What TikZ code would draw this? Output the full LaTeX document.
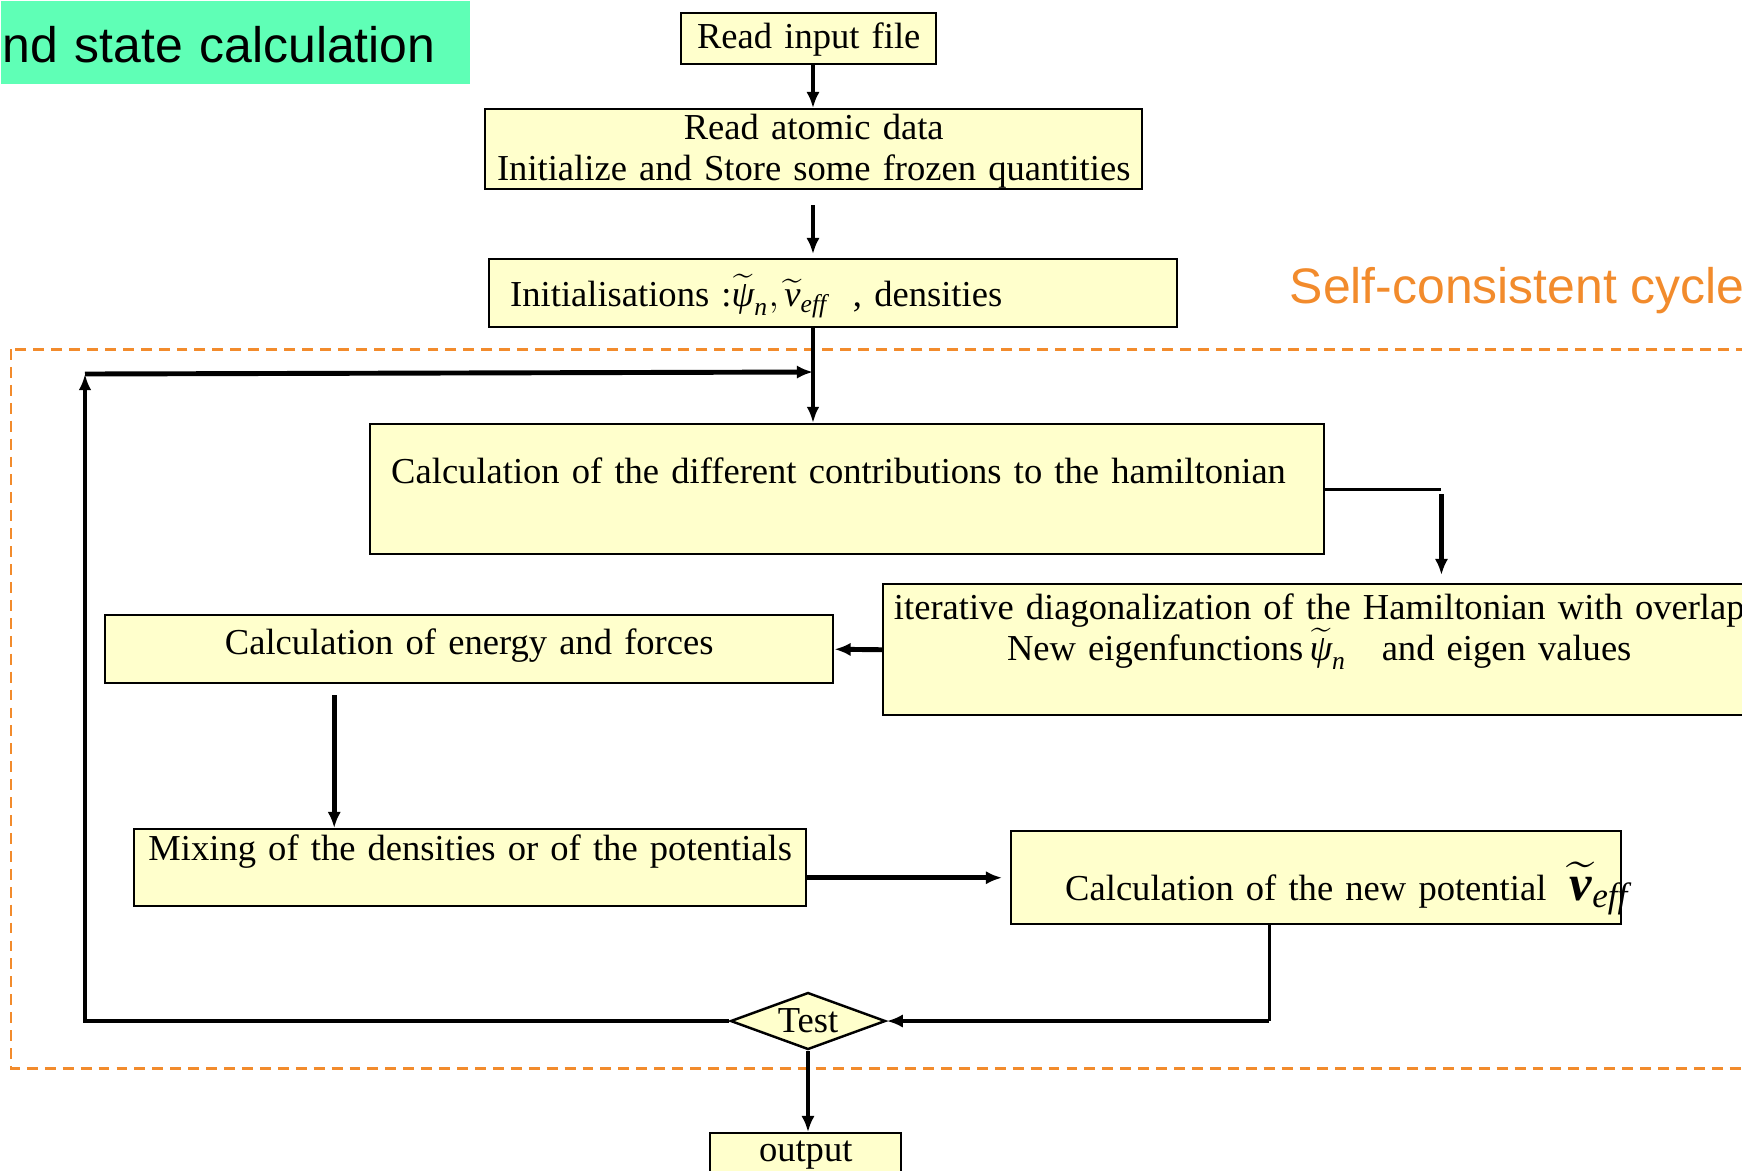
\documentclass[tikz,border=0pt]{standalone}
\usepackage{amsmath}
\usepackage{fontspec}
\setmainfont{Liberation Serif}
\setsansfont{Liberation Sans}
\usetikzlibrary{shapes.geometric,arrows.meta}

\definecolor{boxyellow}{RGB}{255,255,204}
\definecolor{bannergreen}{RGB}{95,255,182}
\definecolor{cycleorange}{RGB}{242,139,44}
\newcommand\wavefn{\widetilde{\textit{ψ}}_{\textit{n}}}
\newcommand\veff{\widetilde{\textit{v}}_{\textit{eff}}}

\begin{document}
\begin{tikzpicture}[x=0.1mm, y=-0.1mm,
  box/.style={draw, fill=boxyellow, line width=0.7pt, inner ysep=0pt,
    font=\fontsize{10.4pt}{11.65pt}\selectfont},
  flow/.style={line width=1.4pt, -{Latex[length=4.6pt,width=3.8pt]}},
  link/.style={line width=0.8pt},
  linkarrow/.style={line width=0.9pt, -{Latex[length=4.6pt,width=3.6pt]}},
  bigtext/.style={font=\sffamily\fontsize{14.2pt}{17pt}\selectfont, inner sep=0pt}]
\useasboundingbox (0,0) rectangle (1742,1170);

\draw [cycleorange, line width=0.85pt, dash pattern=on 3.1pt off 2pt]
    (11,349) rectangle (1800,1068);

\node [bigtext, fill=bannergreen, anchor=north west, text width=46.9mm,
    align=left, text height=6.2mm, text depth=2.1mm] (title) at (0,0)
    {\hspace{0.2mm}nd state calculation};
\node [bigtext, text=cycleorange, anchor=base west] (cycle) at (1289,303)
    {Self-consistent cycle};

\node [box, anchor=north west, inner xsep=0pt, text width=25.5mm, align=center,
    text height=3.5mm, text depth=1.6mm] (read) at (680,12) {Read input file};
\node [box, anchor=north west, inner xsep=0pt, text width=65.7mm, align=center,
    text height=3.0mm, text depth=5.0mm] (atomic) at (484,108)
    {Read atomic data\\Initialize and Store some frozen quantities};
\node [box, anchor=north west, inner xsep=2.1mm, text width=64.6mm, align=left,
    text height=4.7mm, text depth=2.1mm] (init) at (488,258)
    {Initialisations :$\wavefn,\veff$\hspace{2.5mm}, densities};
\node [box, anchor=north west, inner xsep=2.1mm, text width=91.2mm, align=left,
    text height=5.9mm, text depth=7.1mm] (ham) at (369,423)
    {Calculation of the different contributions to the hamiltonian};
\node [box, anchor=north west, inner xsep=0pt, text width=87.2mm, align=center,
    text height=3.5mm, text depth=9.6mm] (diag) at (882,583)
    {iterative diagonalization of the Hamiltonian with overlap\\
     New eigenfunctions\,$\wavefn$\hspace{3.5mm}and eigen values};
\node [box, anchor=north west, inner xsep=0pt, text width=72.8mm, align=center,
    text height=3.9mm, text depth=2.9mm] (energy) at (104,614)
    {Calculation of energy and forces};
\node [box, anchor=north west, inner xsep=5.4mm, text width=50.2mm, align=left,
    text height=6.9mm, text depth=2.4mm] (newpot) at (1010,830)
    {\mbox{Calculation of the new potential\hspace{2.3mm}{\Large
     $\widetilde{\textbf{\textit{v}}}_{\textit{eff}}$}}};
\node [box, anchor=north west, inner xsep=0pt, text width=67.2mm, align=center,
    text height=3.1mm, text depth=4.6mm] (mix) at (133,828)
    {Mixing of the densities or of the potentials};
\node [box, diamond, aspect=2.7, inner sep=0pt, minimum width=15.5mm, minimum height=5.7mm]
    (test) at (808,1021) {Test};
\node [box, anchor=north west, inner xsep=0pt, text width=19.1mm, align=center,
    text height=2.8mm, text depth=3.5mm] (out) at (709,1132) {output};

\coordinate (join) at (813,372);
\coordinate (looptop) at (85,374);
\coordinate (potdrop) at ([xshift=-4.7mm]newpot.south |- test.east);

\draw [flow] (read.south -| join) -- (atomic.north -| join);
\draw [flow, shorten <=1.5mm, shorten >=0.4mm] (atomic.south -| join) -- (init.north -| join);
\draw [linkarrow] (init.south -| join) -- (ham.north -| join);
\draw [linkarrow] (test.west) -| (looptop);
\draw [flow] (looptop) -- (join);
\draw [link] (ham.east) -- ++(116,0) coordinate (hamturn);
\draw [flow, shorten <=0.5mm, shorten >=0.8mm] (hamturn) -- (hamturn |- diag.north);
\draw [flow] (diag.west) -- (energy.east);
\draw [flow, shorten <=1.1mm] ([xshift=-13.5mm]energy.south)
    -- ([xshift=-13.5mm]energy.south |- mix.north);
\draw [flow, shorten >=0.8mm] (mix.east |- newpot.west) -- (newpot.west);
\draw [link] (newpot.south -| potdrop) -- (potdrop);
\draw [flow] (potdrop) -- (test.east);
\draw [flow] (test.south) -- (test.south |- out.north);
\end{tikzpicture}
\end{document}
